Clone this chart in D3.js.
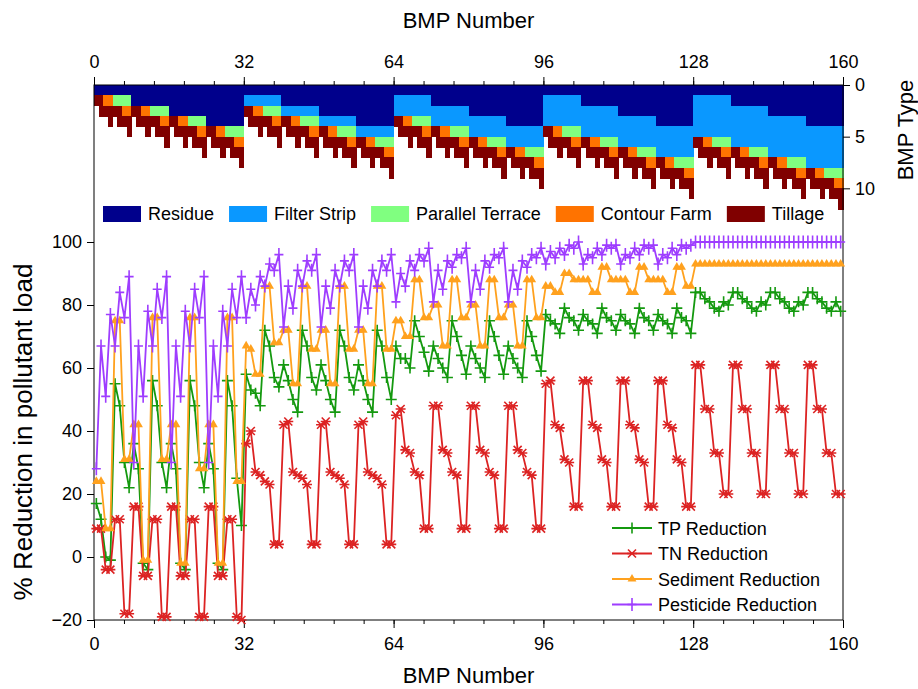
<!DOCTYPE html>
<html>
<head>
<meta charset="utf-8">
<script src="https://cdn.jsdelivr.net/npm/d3@7"></script>
<style>
body{margin:0;background:#fff;}
svg text{font-family:"Liberation Sans",Arial,sans-serif;fill:#000;}
.axis path,.axis line{stroke:#000;stroke-width:1;}
.series{fill:none;stroke-width:1.8;}
.types rect{shape-rendering:crispEdges;}
</style>
</head>
<body>
<svg id="chart"></svg>
<script>
// ---- values ----
var bmpTicks = [0, 32, 64, 96, 128, 160];
var pctTicks = [-20, 0, 20, 40, 60, 80, 100];
var typeTicks = [0, 5, 10];

// BMP type layout: block of 32 -> filter strip rows, group of 8 -> residue rows,
// position in group -> terrace / contour / tillage rows
var blockFilter = [0, 1, 2, 3, 4];
var groupResidue = [1, 2, 3, 4];
var comboTerrace = [0, 0, 0, 0, 1, 1, 1, 1];
var comboContour = [0, 0, 1, 1, 0, 0, 1, 1];
var comboTillage = [1, 2, 1, 2, 1, 2, 1, 2];
var typeNames = ['Residue', 'Filter Strip', 'Parallel Terrace', 'Contour Farm', 'Tillage'];
var typeColors = ['#00008c', '#0a98ff', '#80ff80', '#ff7300', '#800000'];

var tpReduction = [
    17, 12, 0, -1, 55, 48, 30, 22,
    36, 28, -2, -4, 56, 48, 30, 22,
    36, 28, -2, -4, 56, 48, 30, 22,
    36, 28, -2, -4, 56, 48, 25, 10,
    58, 53, 52, 48, 72, 67, 57, 54,
    61, 56, 50, 46, 72, 67, 57, 53,
    61, 56, 50, 46, 72, 67, 57, 53,
    61, 56, 50, 46, 72, 67, 57, 50,
    67, 63, 63, 60, 75, 70, 65, 59,
    67, 63, 60, 57, 75, 70, 64, 58,
    67, 63, 60, 57, 75, 70, 64, 58,
    67, 63, 60, 57, 75, 70, 64, 59,
    77, 75, 74, 71, 79, 76, 75, 72,
    77, 75, 74, 71, 79, 76, 75, 72,
    77, 75, 74, 71, 79, 76, 75, 72,
    77, 75, 74, 71, 79, 76, 75, 71,
    84, 84, 82, 81, 79, 78, 81, 80,
    84, 84, 82, 81, 79, 78, 81, 80,
    84, 84, 82, 81, 79, 78, 81, 80,
    84, 84, 82, 81, 79, 78, 81, 78
];
var tnReduction = [
    9, 9, -4, -4, 12, 12, -18, -18,
    16, 16, -6, -6, 12, 12, -19, -19,
    16, 16, -6, -6, 12, 12, -19, -19,
    16, 16, -6, -6, 12, 12, -19, -20,
    36, 40, 27, 26, 24, 23, 4, 4,
    42, 43, 27, 26, 25, 23, 4, 4,
    42, 43, 27, 26, 25, 23, 4, 4,
    42, 43, 27, 26, 25, 23, 4, 4,
    45, 47, 34, 33, 27, 26, 9, 9,
    48, 48, 34, 33, 27, 26, 9, 9,
    48, 48, 34, 33, 27, 26, 9, 9,
    48, 48, 34, 33, 27, 26, 9, 9,
    55, 56, 42, 41, 31, 30, 16, 16,
    56, 56, 42, 41, 31, 30, 16, 16,
    56, 56, 42, 41, 31, 30, 16, 16,
    56, 56, 42, 41, 31, 30, 16, 16,
    61, 61, 47, 47, 33, 33, 20, 20,
    61, 61, 47, 47, 33, 33, 20, 20,
    61, 61, 47, 47, 33, 33, 20, 20,
    61, 61, 47, 47, 33, 33, 20, 20
];
var sedReduction = [
    24, 24, 9, 9, 75, 75, 31, 31,
    42, 42, -1, -1, 76, 76, 31, 31,
    42, 42, -2, -2, 76, 76, 28, 28,
    42, 42, -2, -2, 76, 76, 24, 24,
    67, 66, 58, 58, 86, 86, 68, 68,
    72, 72, 55, 55, 86, 86, 66, 66,
    72, 72, 55, 55, 86, 86, 66, 66,
    72, 72, 55, 55, 86, 86, 66, 66,
    75, 75, 70, 70, 88, 88, 76, 76,
    80, 80, 67, 67, 88, 88, 76, 76,
    80, 80, 67, 67, 88, 88, 76, 76,
    80, 80, 67, 67, 88, 88, 76, 76,
    86, 86, 84, 84, 90, 90, 88, 88,
    88, 88, 84, 84, 92, 92, 88, 88,
    88, 88, 84, 84, 92, 92, 88, 88,
    88, 88, 84, 84, 92, 92, 86, 86,
    93, 93, 93, 93, 93, 93, 93, 93,
    93, 93, 93, 93, 93, 93, 93, 93,
    93, 93, 93, 93, 93, 93, 93, 93,
    93, 93, 93, 93, 93, 93, 93, 93
];
var pestReduction = [
    28, 67, 51, 77, 67, 84, 76, 89,
    30, 67, 51, 78, 67, 85, 76, 89,
    30, 67, 51, 78, 67, 85, 76, 89,
    30, 67, 51, 78, 67, 85, 76, 89,
    76, 85, 80, 89, 86, 93, 91, 96,
    73, 86, 79, 91, 86, 94, 91, 96,
    73, 86, 79, 91, 86, 94, 91, 96,
    73, 86, 79, 91, 86, 94, 91, 96,
    81, 90, 86, 94, 91, 96, 94, 98,
    81, 91, 85, 94, 92, 96, 95, 98,
    81, 91, 85, 94, 92, 96, 95, 98,
    81, 91, 85, 94, 92, 96, 95, 98,
    93, 97, 95, 98, 96, 99, 98, 100,
    93, 96, 95, 98, 96, 99, 98, 99,
    93, 96, 95, 98, 96, 99, 98, 99,
    93, 96, 95, 98, 96, 99, 98, 99,
    100, 100, 100, 100, 100, 100, 100, 100,
    100, 100, 100, 100, 100, 100, 100, 100,
    100, 100, 100, 100, 100, 100, 100, 100,
    100, 100, 100, 100, 100, 100, 100, 100
];

var seriesNames = ['TP Reduction', 'TN Reduction', 'Sediment Reduction', 'Pesticide Reduction'];
var seriesColors = ['#14990f', '#dc2323', '#ffa11e', '#9e3dff'];

// marker drawers, one per series
var markers = [
    function(sel){ sel.append('path').attr('d', 'M-5.5,0H5.5M0,-5.5V5.5').attr('fill', 'none'); },
    function(sel){ sel.append('path').attr('d', 'M-4,-4L4,4M-4,4L4,-4M-5,0H5').attr('fill', 'none'); },
    function(sel){ sel.append('path').attr('d', d3.symbol().type(d3.symbolTriangle).size(34)).attr('stroke', 'none'); },
    function(sel){ sel.append('path').attr('d', 'M-4.5,0H4.5M0,-6.5V6.5').attr('fill', 'none'); }
];

// ---- drawing ----
var draw = function(){
    var width = 918, height = 689;
    var left = 94, right = 843, top = 85, bottom = 620;

    var svg = d3.select('svg#chart')
    .attr('width', width)
    .attr('height', height);

    var x = d3.scaleLinear().domain([0, 160]).range([left, right]);
    var yPct = d3.scaleLinear().domain([-20, 100]).range([bottom, 242]);
    var yType = d3.scaleLinear().domain([0, 12]).range([top, 209]);

    drawTypes();
    drawFrame();
    drawSeries();
    drawLegends();

    function drawTypes(){
        var cells = [];
        for(var i = 0; i < 160; i++){
            var b = Math.floor(i / 32), g = Math.floor((i % 32) / 8), k = i % 8;
            var heights = [groupResidue[g], blockFilter[b], comboTerrace[k], comboContour[k], comboTillage[k]];
            var row = 0;
            heights.forEach(function(h, t){
                if(h > 0) cells.push({bmp: i, type: t, r0: row, r1: row + h});
                row += h;
            });
        }
        svg.append('g')
        .attr('class', 'types')
        .selectAll('rect')
        .data(cells)
        .enter().append('rect')
        .attr('x', function(d){ return x(d.bmp); })
        .attr('width', function(d){ return x(d.bmp + 1) - x(d.bmp) + 0.6; })
        .attr('y', function(d){ return yType(d.r0); })
        .attr('height', function(d){ return yType(d.r1) - yType(d.r0) + 0.6; })
        .attr('fill', function(d){ return typeColors[d.type]; });
    }

    function drawFrame(){
        var minor = d3.range(0, 26).map(function(d){ return d * 6.4; });

        svg.append('rect')
        .attr('x', left).attr('y', top)
        .attr('width', right - left).attr('height', bottom - top)
        .attr('fill', 'none').attr('stroke', '#000');

        // top
        svg.append('g').attr('class', 'axis')
        .attr('transform', 'translate(0,' + top + ')')
        .call(d3.axisTop(x).tickValues(minor).tickSize(4).tickFormat(''))
        .call(function(g){ g.select('.domain').remove(); });
        svg.append('g').attr('class', 'axis')
        .attr('transform', 'translate(0,' + top + ')')
        .call(d3.axisTop(x).tickValues(bmpTicks).tickSize(8).tickPadding(9).tickFormat(d3.format('d')))
        .call(function(g){ g.select('.domain').remove(); })
        .selectAll('text').style('font-size', '18px');

        // bottom
        svg.append('g').attr('class', 'axis')
        .attr('transform', 'translate(0,' + bottom + ')')
        .call(d3.axisBottom(x).tickValues(minor).tickSize(4).tickFormat(''))
        .call(function(g){ g.select('.domain').remove(); });
        svg.append('g').attr('class', 'axis')
        .attr('transform', 'translate(0,' + bottom + ')')
        .call(d3.axisBottom(x).tickValues(bmpTicks).tickSize(8).tickPadding(9).tickFormat(d3.format('d')))
        .call(function(g){ g.select('.domain').remove(); })
        .selectAll('text').style('font-size', '18px');

        // left
        svg.append('g').attr('class', 'axis')
        .attr('transform', 'translate(' + left + ',0)')
        .call(d3.axisLeft(yPct).tickValues(pctTicks).tickSize(7).tickPadding(5))
        .call(function(g){ g.select('.domain').remove(); })
        .selectAll('text').style('font-size', '18px');

        // right
        svg.append('g').attr('class', 'axis')
        .attr('transform', 'translate(' + right + ',0)')
        .call(d3.axisRight(yType).tickValues(typeTicks).tickSize(7).tickPadding(5))
        .call(function(g){ g.select('.domain').remove(); })
        .selectAll('text').style('font-size', '18px');

        svg.append('text')
        .attr('x', (left + right) / 2).attr('y', 28)
        .attr('text-anchor', 'middle').style('font-size', '22px')
        .text('BMP Number');
        svg.append('text')
        .attr('x', (left + right) / 2).attr('y', 683)
        .attr('text-anchor', 'middle').style('font-size', '22px')
        .text('BMP Number');
        svg.append('text')
        .attr('transform', 'translate(32,432) rotate(-90)')
        .attr('text-anchor', 'middle').style('font-size', '26px')
        .text('% Reduction in pollutant load');
        svg.append('text')
        .attr('transform', 'translate(913,130) rotate(-90)')
        .attr('text-anchor', 'middle').style('font-size', '22px')
        .text('BMP Type');
    }

    function drawSeries(){
        var all = [tpReduction, tnReduction, sedReduction, pestReduction];
        var line = d3.line()
        .x(function(d, i){ return x(i + 0.5); })
        .y(function(d){ return yPct(d); });

        all.forEach(function(values, s){
            var g = svg.append('g').attr('class', 'series-' + s);
            g.append('path')
            .attr('class', 'series')
            .attr('stroke', seriesColors[s])
            .attr('d', line(values));
            g.selectAll('g.mk')
            .data(values)
            .enter().append('g')
            .attr('class', 'mk')
            .attr('transform', function(d, i){ return 'translate(' + x(i + 0.5) + ',' + yPct(d) + ')'; })
            .attr('stroke', seriesColors[s])
            .attr('fill', seriesColors[s])
            .attr('stroke-width', 1.6)
            .each(function(){ markers[s](d3.select(this)); });
        });
    }

    function drawLegends(){
        // BMP type legend, laid out in a row
        var lg = svg.append('g').attr('class', 'type-legend');
        var cx = 103;
        typeNames.forEach(function(name, t){
            lg.append('rect')
            .attr('x', cx).attr('y', 206)
            .attr('width', 38).attr('height', 16)
            .attr('fill', typeColors[t]);
            var txt = lg.append('text')
            .attr('x', cx + 45).attr('y', 220)
            .style('font-size', '18px')
            .text(name);
            cx += 45 + txt.node().getComputedTextLength() + 15;
        });

        // series legend
        var sl = svg.append('g').attr('class', 'series-legend');
        seriesNames.forEach(function(name, s){
            var yy = 528 + s * 25.5;
            var row = sl.append('g');
            row.append('line')
            .attr('x1', 612).attr('x2', 652)
            .attr('y1', yy).attr('y2', yy)
            .attr('stroke', seriesColors[s]).attr('stroke-width', 1.8);
            var mk = row.append('g')
            .attr('transform', 'translate(632,' + yy + ')')
            .attr('stroke', seriesColors[s])
            .attr('fill', seriesColors[s])
            .attr('stroke-width', 1.6);
            markers[s](mk);
            row.append('text')
            .attr('x', 658).attr('y', yy + 6.5)
            .style('font-size', '18px')
            .text(name);
        });
    }
};

draw();
</script>
</body>
</html>
